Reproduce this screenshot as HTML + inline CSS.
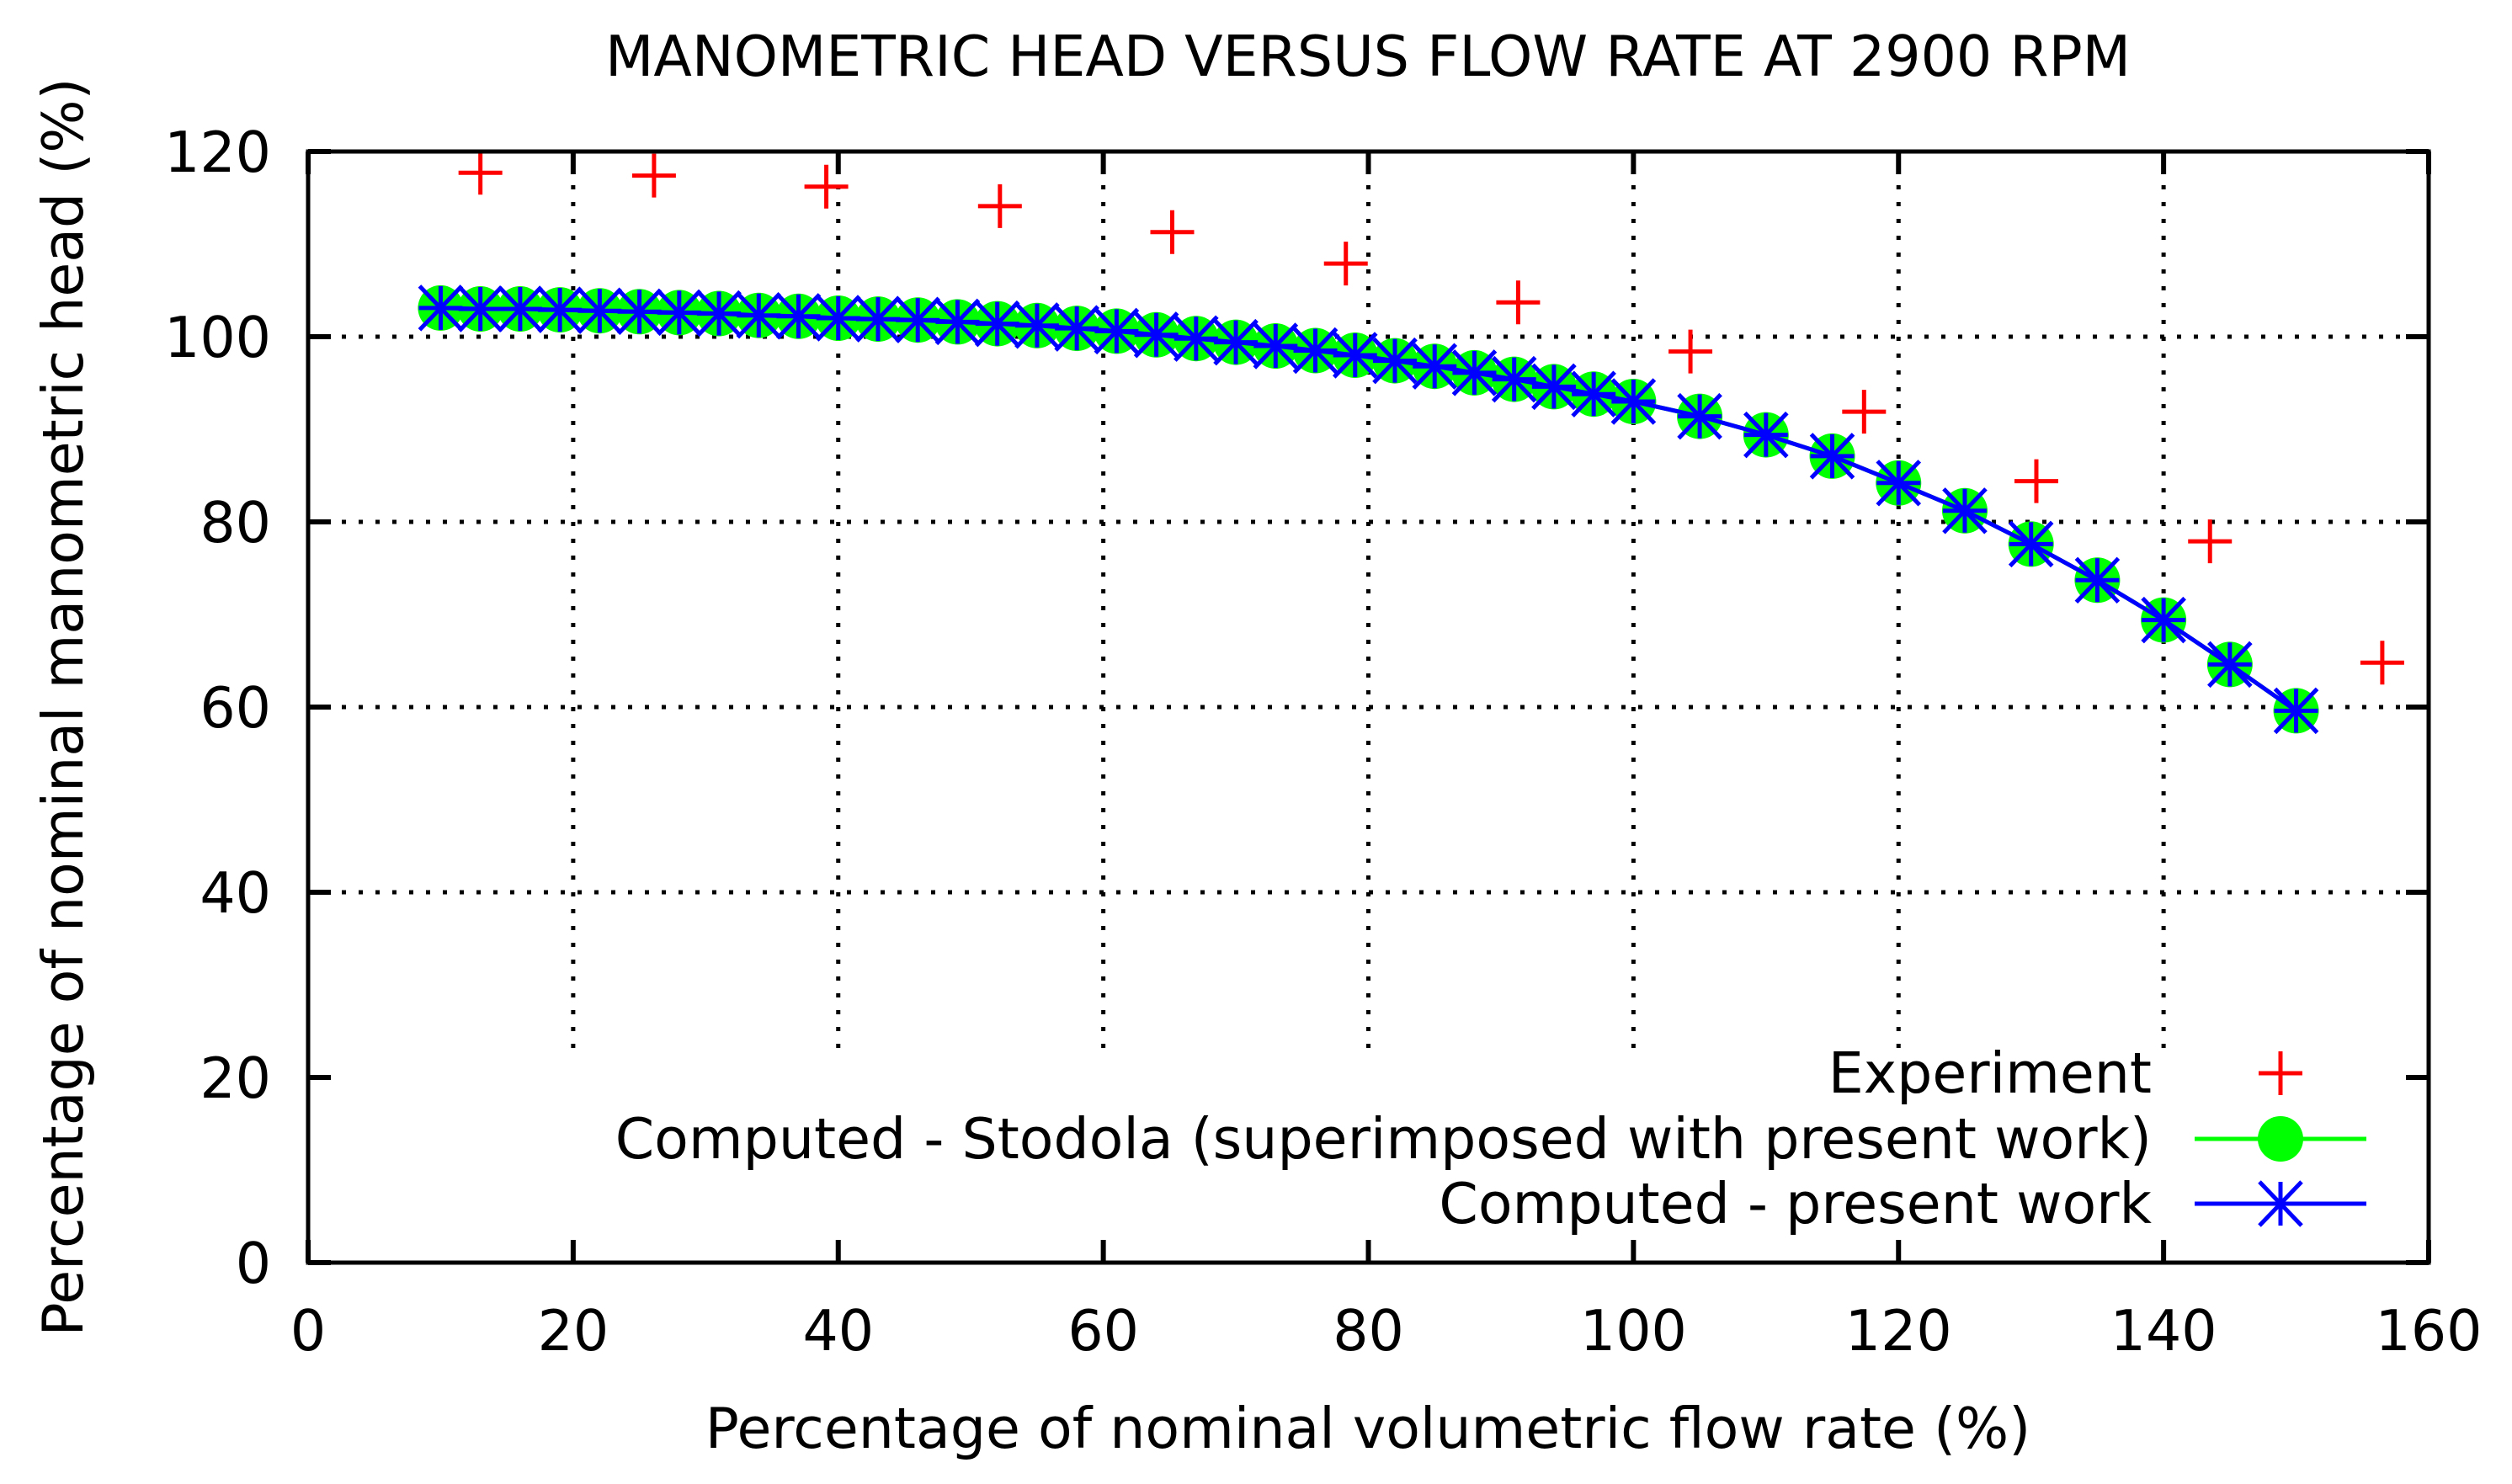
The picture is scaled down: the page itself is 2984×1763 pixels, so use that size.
<!DOCTYPE html>
<html><head><meta charset="utf-8"><style>
body{margin:0;background:#fff}
svg{display:block}
text{font-family:"DejaVu Sans","Liberation Sans",sans-serif;font-size:66.5px;fill:#000}
</style></head><body>
<svg id="chart" width="2984" height="1763" viewBox="0 0 2984 1763" xmlns="http://www.w3.org/2000/svg">
<text x="1625" y="90" text-anchor="middle">MANOMETRIC HEAD VERSUS FLOW RATE AT 2900 RPM</text>
<g id="grid"></g>
<rect x="370" y="1248" width="2512" height="248" fill="#fff"/>
<g id="series"></g>
<g id="axes"></g>
<text x="1625" y="1720" text-anchor="middle">Percentage of nominal volumetric flow rate (%)</text>
<text transform="translate(98,840) rotate(-90)" text-anchor="middle">Percentage of nominal manometric head (%)</text>
<g>
<text x="2556" y="1298" text-anchor="end">Experiment</text>
<g stroke="#f00" stroke-width="5"><line x1="2683" y1="1275" x2="2735" y2="1275"/><line x1="2709" y1="1249" x2="2709" y2="1301"/></g>
<text x="2556" y="1376" text-anchor="end">Computed - Stodola (superimposed with present work)</text>
<g><line x1="2607" y1="1353" x2="2811" y2="1353" stroke="#0f0" stroke-width="5"/><ellipse cx="2709" cy="1353" rx="27" ry="27" fill="#0f0"/></g>
<text x="2556" y="1453" text-anchor="end">Computed - present work</text>
<g stroke="#00f" stroke-width="5"><line x1="2607" y1="1430" x2="2811" y2="1430"/><line x1="2709" y1="1404" x2="2709" y2="1456"/><line x1="2684" y1="1404" x2="2734" y2="1456"/><line x1="2684" y1="1456" x2="2734" y2="1404"/></g>
</g>
</svg>
<script>
const xTicks=[0,20,40,60,80,100,120,140,160];
const yTicks=[0,20,40,60,80,100,120];
const expX=[13,26.1,39.1,52.2,65.2,78.3,91.3,104.3,117.4,130.4,143.5,156.5];
const expY=[117.7,117.4,116.2,114.1,111.3,107.9,103.7,98.4,91.9,84.4,77.9,64.8];
const compX=[10,13,16,19,22,25,28,31,34,37,40,43,46,49,52,55,58,61,64,67,70,73,76,79,82,85,88,91,94,97,100,105,110,115,120,125,130,135,140,145,150];
const compY=[103.1,103.0,103.0,102.9,102.8,102.7,102.6,102.5,102.3,102.2,102.0,101.9,101.8,101.6,101.4,101.2,100.9,100.6,100.2,99.8,99.4,99.0,98.5,98.0,97.4,96.8,96.1,95.4,94.6,93.8,93.0,91.4,89.4,87.1,84.2,81.2,77.6,73.7,69.4,64.6,59.6];
const L=366,R=2885,T=180,B=1500;
const sx=v=>L+(v-0)/160*(R-L);
const sy=v=>B-(v-0)/120*(B-T);
const NS="http://www.w3.org/2000/svg";
function mk(tag,attrs,parent){const e=document.createElementNS(NS,tag);for(const k in attrs)e.setAttribute(k,attrs[k]);parent.appendChild(e);return e;}
const grid=document.getElementById('grid'),axes=document.getElementById('axes'),series=document.getElementById('series');
xTicks.forEach(v=>{
 if(v>0&&v<160){const g=mk('line',{x1:sx(v),x2:sx(v),y1:T,y2:B,stroke:'#000','stroke-width':5,'stroke-dasharray':'5 15'},grid);
 
 }
 [[B,B-27],[T,T+27]].forEach(p=>{const t=mk('line',{x1:sx(v),x2:sx(v),y1:p[0],y2:p[1],stroke:'#000','stroke-width':6},axes);
 
 });
 const lb=mk('text',{x:sx(v),y:1604,'text-anchor':'middle'},axes);lb.textContent=v;
 
 
});
yTicks.forEach(v=>{
 if(v>0&&v<120){const g=mk('line',{x1:L,x2:R,y1:sy(v),y2:sy(v),stroke:'#000','stroke-width':5,'stroke-dasharray':'5 15'},grid);
 
 }
 [[L,L+27],[R,R-27]].forEach(p=>{const t=mk('line',{x1:p[0],x2:p[1],y1:sy(v),y2:sy(v),stroke:'#000','stroke-width':6},axes);
 
 });
 const lb=mk('text',{x:322,y:sy(v)+24,'text-anchor':'end'},axes);lb.textContent=v;
 
 
});
const fr=mk('rect',{x:L,y:T,width:R-L,height:B-T,fill:'none',stroke:'#000','stroke-width':5},axes);


const pts=compX.map((x,i)=>sx(x)+','+sy(compY[i])).join(' ');
const gl=mk('polyline',{points:pts,fill:'none',stroke:'#0f0','stroke-width':5},series);


compX.forEach((x,i)=>{const c=mk('circle',{cx:sx(x),cy:sy(compY[i]),r:27,fill:'#0f0'},series);
 
 });
const bl=mk('polyline',{points:pts,fill:'none',stroke:'#00f','stroke-width':5},series);


compX.forEach((x,i)=>{const cx=sx(x),cy=sy(compY[i]);
 const g=mk('g',{stroke:'#00f','stroke-width':5},series);
 
 
 mk('line',{x1:cx-26,x2:cx+26,y1:cy,y2:cy},g);
 mk('line',{x1:cx,x2:cx,y1:cy-26,y2:cy+26},g);
 mk('line',{x1:cx-25,x2:cx+25,y1:cy-26,y2:cy+26},g);
 mk('line',{x1:cx-25,x2:cx+25,y1:cy+26,y2:cy-26},g);});
expX.forEach((x,i)=>{const cx=sx(x),cy=sy(expY[i]);
 const g=mk('g',{stroke:'#f00','stroke-width':5},series);
 
 
 mk('line',{x1:cx-26,x2:cx+26,y1:cy,y2:cy},g);
 mk('line',{x1:cx,x2:cx,y1:cy-26,y2:cy+26},g);});
</script>
</body></html>
